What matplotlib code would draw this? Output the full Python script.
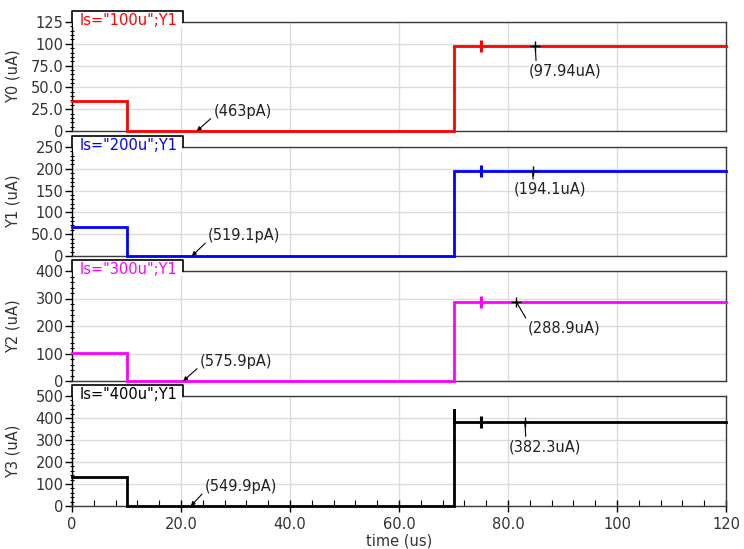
import matplotlib
matplotlib.use("Agg")
import matplotlib.pyplot as plt
from matplotlib.patches import Rectangle
from matplotlib.lines import Line2D
from matplotlib.ticker import MultipleLocator, FuncFormatter

# ---- data ----
labels = ['Is="100u";Y1', 'Is="200u";Y1', 'Is="300u";Y1', 'Is="400u";Y1']
ylabels = ["Y0 (uA)", "Y1 (uA)", "Y2 (uA)", "Y3 (uA)"]
colors = ["#ff0000", "#0000ff", "#ff00ff", "#000000"]
t_fall = 10.0
t_rise = 70.0
t_end = 120.0
init_uA = [34.0, 66.0, 101.0, 133.0]
low_pA = [463.0, 519.1, 575.9, 549.9]
final_uA = [97.94, 194.1, 288.9, 382.3]
spike_uA = [None, None, None, 441.0]
ymax = [125, 250, 400, 500]
ystep = [25, 50, 100, 100]
marker_t = 75.0
cursor_t = [85.0, 84.5, 81.5, 83.1]
low_cursor_t = [22.9, 22.0, 20.4, 21.8]

def fmt(v, pos):
    if abs(v) < 1e-9:
        return "0"
    if abs(v) < 100:
        return "%.1f" % v
    return "%d" % round(v)

plt.rcParams["font.family"] = ["DejaVu Sans"]
fig = plt.figure(figsize=(7.44, 5.49), dpi=100)

W = 744.0
H = 549.0
left_px, right_px = 72, 726
panels_px = [(22, 131), (147, 256), (271, 381), (396, 506)]
fs = 10.5
spine_col = "#3a3a3a"

low_text = [(31.3, 22.1), (31.6, 45.9), (30.1, 70.2), (31.0, 87.7)]
hi_text = [(90.5, 69.0), (87.7, 153.0), (90.2, 191.6), (86.8, 269.5)]
hi_rel = [(0.1, 1.0), (0.27, 1.0), (0.02, 0.85), (0.235, 1.0)]

for i in range(4):
    top, bot = panels_px[i]
    ax = fig.add_axes([left_px / W, 1 - bot / H, (right_px - left_px) / W, (bot - top) / H])
    low = low_pA[i] * 1e-6
    t = [0, t_fall, t_fall, t_rise, t_rise]
    y = [init_uA[i], init_uA[i], low, low]
    if spike_uA[i] is not None:
        t = t + [t_rise, t_end]
        y = y + [spike_uA[i], final_uA[i], final_uA[i]]
    else:
        t = t + [t_end]
        y = y + [final_uA[i], final_uA[i]]
    ax.plot(t, y, color=colors[i], lw=2.0, clip_on=False, zorder=3, solid_joinstyle="miter")
    # marker at t=75
    ax.plot([marker_t], [final_uA[i]], marker="|", ms=9, mew=2.2, color=colors[i], zorder=4)
    # cursor crosshair
    ax.plot([cursor_t[i]], [final_uA[i]], marker="+", ms=7, mew=1.0, color="black", zorder=5)

    ax.set_xlim(0, t_end)
    ax.set_ylim(0, ymax[i])
    ax.xaxis.set_major_locator(MultipleLocator(20))
    ax.xaxis.set_minor_locator(MultipleLocator(4))
    ax.yaxis.set_major_locator(MultipleLocator(ystep[i]))
    ax.yaxis.set_minor_locator(MultipleLocator(ystep[i] / 5))
    ax.xaxis.set_major_formatter(FuncFormatter(fmt))
    ax.yaxis.set_major_formatter(FuncFormatter(fmt))
    ax.grid(True, which="major", color="#dcdcdc", lw=1.0)
    ax.set_axisbelow(True)
    for s in ax.spines.values():
        s.set_color(spine_col)
        s.set_linewidth(1.0)
    ax.spines["left"].set_color("#000000")
    ax.tick_params(axis="y", which="major", direction="out", length=5, width=1,
                   labelsize=fs, labelcolor="#333333", pad=1)
    ax.tick_params(axis="y", which="minor", direction="inout", length=3, width=0.8)
    if i < 3:
        ax.tick_params(axis="x", which="both", bottom=False, labelbottom=False)
    else:
        ax.tick_params(axis="x", which="major", direction="inout", length=8, width=1,
                       labelsize=fs, labelcolor="#333333", pad=4)
        ax.tick_params(axis="x", which="minor", direction="in", length=4, width=0.8)
        ax.set_xlabel("time (us)", fontsize=fs, color="#333333", labelpad=1)
    ax.set_ylabel(ylabels[i], fontsize=fs, color="#333333")
    ax.yaxis.set_label_coords(-0.079, 0.5)

    # tab label (open at the bottom, covering the top spine)
    hpx = float(bot - top)
    tab_w = 111.0 / (right_px - left_px)
    tab_h = 11.0 / hpx
    ax.add_patch(Rectangle((0.0015, 1 - 5.0 / hpx), tab_w - 0.003, tab_h + 5.0 / hpx,
                           transform=ax.transAxes, clip_on=False,
                           facecolor="white", edgecolor="none", zorder=6))
    ax.add_line(Line2D([0, 0, tab_w, tab_w], [1, 1 + tab_h, 1 + tab_h, 1],
                       transform=ax.transAxes, clip_on=False, color="black", lw=1.2,
                       zorder=7))
    ax.text(0.012, 1.0 - 3.0 / hpx, labels[i], transform=ax.transAxes, color=colors[i],
            fontsize=fs, ha="left", va="baseline", zorder=8, clip_on=False)

    # low value annotation
    ax.annotate("(%gpA)" % low_pA[i], xy=(low_cursor_t[i], low), xytext=low_text[i],
                fontsize=fs, color="#222222", ha="center", va="center",
                arrowprops=dict(arrowstyle="-|>", color="black", lw=0.8,
                                shrinkA=0, shrinkB=0, relpos=(0.0, 0.2),
                                mutation_scale=6))
    # final value annotation
    ax.annotate("(%guA)" % final_uA[i], xy=(cursor_t[i], final_uA[i]), xytext=hi_text[i],
                fontsize=fs, color="#222222", ha="center", va="center",
                arrowprops=dict(arrowstyle="-", color="black", lw=0.8,
                                shrinkA=0, shrinkB=0, relpos=hi_rel[i]))

fig.savefig("out.png", dpi=100)
